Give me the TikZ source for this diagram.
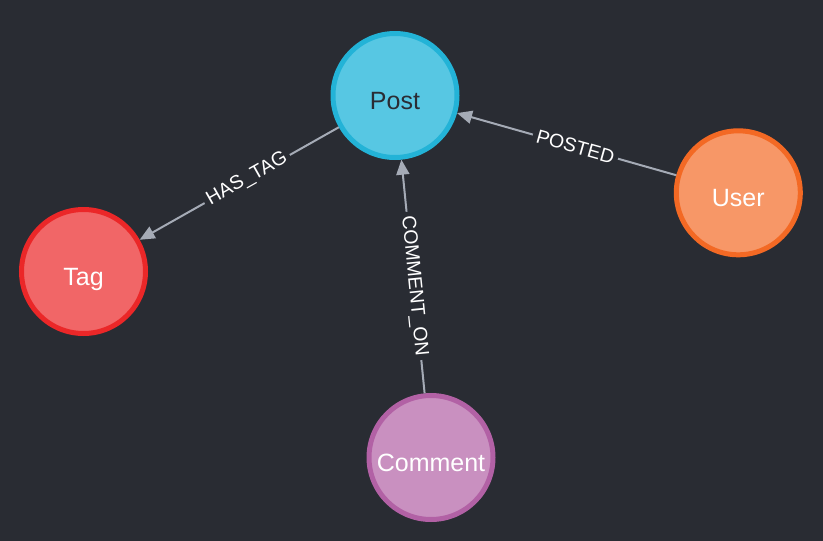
\documentclass[tikz,border=0pt]{standalone}
\usepackage{fontspec}
\setmainfont{Liberation Sans}
\usepackage{xcolor}
\usetikzlibrary{arrows.meta}
\definecolor{bg}{HTML}{292C33}
\definecolor{edge}{HTML}{A5ABB6}
\definecolor{postfill}{HTML}{57C7E3}
\definecolor{postline}{HTML}{23B3D7}
\definecolor{tagfill}{HTML}{F16667}
\definecolor{tagline}{HTML}{EB2728}
\definecolor{userfill}{HTML}{F79767}
\definecolor{userline}{HTML}{F36924}
\definecolor{commentfill}{HTML}{C990C0}
\definecolor{commentline}{HTML}{B261A5}
\definecolor{darktext}{HTML}{2A2C34}

\begin{document}
\begin{tikzpicture}[x=1pt, y=-1pt, >={Triangle[length=15pt,width=13pt]}]
\tikzstyle{ent}=[circle, line width=5pt, minimum size=124pt, inner sep=0pt, text=white, text height=27pt, text depth=0pt, font=\fontsize{25}{30}\selectfont]
\tikzstyle{rel}=[->, draw=edge, line width=2pt]
\tikzstyle{lbl}=[pos=0.46, sloped, fill=bg, inner sep=4pt, text=white, font=\fontsize{19.5}{22}\selectfont]
\fill[bg] (0,0) rectangle (823,541);

\node[ent, draw=postline, fill=postfill, text=darktext] (post) at (395,95.5) {Post};
\node[ent, draw=tagline, fill=tagfill] (tag) at (83.5,271.5) {Tag};
\node[ent, draw=userline, fill=userfill] (user) at (738.3,192.8) {User};
\node[ent, draw=commentline, fill=commentfill] (comment) at (431,457.5) {Comment};

\draw[rel] (user) -- node[lbl]{POSTED} (post);
\draw[rel] (post) -- node[lbl]{HAS\_TAG} (tag);
\draw[rel] (comment) -- node[lbl]{COMMENT\_ON} (post);
\end{tikzpicture}
\end{document}
